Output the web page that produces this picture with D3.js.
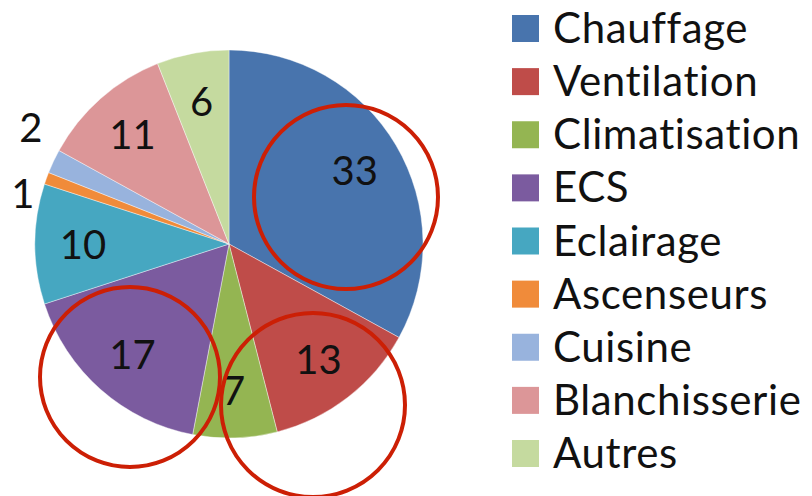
<!DOCTYPE html>
<html>
<head>
<meta charset="utf-8">
<script src="https://cdn.jsdelivr.net/npm/d3@7"></script>
<style>
  body { margin: 0; background: #fff; }
  text { font-family: Lato, "Open Sans", sans-serif; fill: #111; font-variant-ligatures: none; }
</style>
</head>
<body>
<div id="chart"></div>
<script>
// Data
var categories = ["Chauffage", "Ventilation", "Climatisation", "ECS", "Eclairage",
                  "Ascenseurs", "Cuisine", "Blanchisserie", "Autres"];
var values = [33, 13, 7, 17, 10, 1, 2, 11, 6];
var colors = ["#4874ad", "#bf4c49", "#94b552", "#7b5b9f", "#46a7c1",
              "#f08b3a", "#98b3dd", "#dc9698", "#c5da9f"];

var width = 812, height = 496;
var cx = 229, cy = 244, radius = 194;

// red circles drawn over the chart in the source figure (offset from pie centre, radius)
var marks = [[117, -47, 92], [84, 161, 92], [-99, 133, 90]];

var svg = d3.select("#chart").append("svg")
    .attr("width", width)
    .attr("height", height);

var data = categories.map(function (c, i) { return { name: c, value: values[i] }; });

var color = d3.scaleOrdinal().domain(categories).range(colors);

var pie = d3.pie().sort(null).value(function (d) { return d.value; });
var arcs = pie(data);

var arc = d3.arc().innerRadius(0).outerRadius(radius);
var labelArc = d3.arc().innerRadius(146).outerRadius(146);
var outArc = d3.arc().innerRadius(radius + 25).outerRadius(radius + 25);

var g = svg.append("g").attr("transform", "translate(" + cx + "," + cy + ")");

g.selectAll("path")
  .data(arcs)
  .enter().append("path")
    .attr("d", arc)
    .attr("fill", function (d) { return color(d.data.name); })
    .attr("stroke", "rgba(255,255,255,0.5)")
    .attr("stroke-width", 0.8);

// Labels: small slices go outside, spread apart vertically
var labels = arcs.map(function (d) {
  var inside = d.data.value >= 3;
  var p = inside ? labelArc.centroid(d) : outArc.centroid(d);
  return { d: d, x: p[0], y: p[1], inside: inside };
});
var outside = labels.filter(function (l) { return !l.inside; })
                    .sort(function (a, b) { return a.y - b.y; });
var gap = 66;
if (outside.length > 1) {
  var mean = d3.mean(outside, function (l) { return l.y; });
  outside.forEach(function (l, i) {
    l.y = mean + (i - (outside.length - 1) / 2) * gap;
  });
}

g.selectAll("text.val")
  .data(labels)
  .enter().append("text")
    .attr("class", "val")
    .attr("x", function (l) { return l.x; })
    .attr("y", function (l) { return l.y; })
    .attr("text-anchor", "middle")
    .attr("dominant-baseline", "central")
    .style("font-size", "40px")
    .text(function (l) { return l.d.data.value; });

g.selectAll("circle.mark")
  .data(marks)
  .enter().append("circle")
    .attr("class", "mark")
    .attr("cx", function (m) { return m[0]; })
    .attr("cy", function (m) { return m[1]; })
    .attr("r", function (m) { return m[2]; })
    .attr("fill", "none")
    .attr("stroke", "#cc1f05")
    .attr("stroke-width", 4);

// Legend
var legendY = d3.scalePoint().domain(categories).range([15, 440]);
var legend = svg.append("g").attr("transform", "translate(512,0)");
var item = legend.selectAll("g")
  .data(categories)
  .enter().append("g")
    .attr("transform", function (c) { return "translate(0," + legendY(c) + ")"; });
item.append("rect")
    .attr("width", 27)
    .attr("height", 27)
    .attr("fill", function (c) { return color(c); });
item.append("text")
    .attr("x", 41)
    .attr("y", 28)
    .style("font-size", "42px")
    .style("letter-spacing", "0.6px")
    .text(function (c) { return c; });
</script>
</body>
</html>
